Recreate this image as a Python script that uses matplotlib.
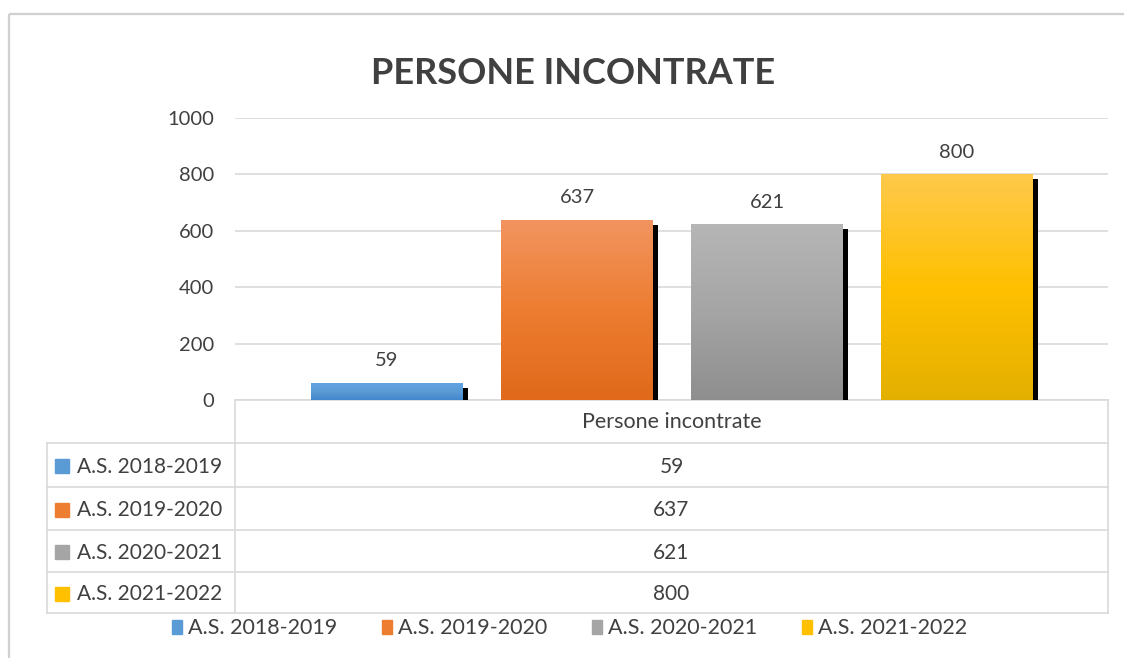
import numpy as np
import matplotlib
matplotlib.use("Agg")
import matplotlib.pyplot as plt
from matplotlib.patches import Rectangle
from matplotlib.colors import LinearSegmentedColormap
import matplotlib.patheffects as pe

# ---- data ----
title = "PERSONE INCONTRATE"
category = "Persone incontrate"
series = ["A.S. 2018-2019", "A.S. 2019-2020", "A.S. 2020-2021", "A.S. 2021-2022"]
values = [59, 637, 621, 800]
yticks = [0, 200, 400, 600, 800, 1000]

# ---- styles ----
base_colors = ["#5B9BD5", "#ED7D31", "#A5A5A5", "#FFC000"]
grad_stops = [
    ["#62A4E2", "#5B9BD5", "#4386CC"],
    ["#F29460", "#ED7D31", "#E0691B"],
    ["#B6B6B6", "#A5A5A5", "#8E8E8E"],
    ["#FEC94C", "#FFC000", "#E4B000"],
]
txt = "#404040"
grid_c = "#D9D9D9"
FONT = "Lato"
plt.rcParams['font.family'] = [FONT, 'DejaVu Sans']

W, H = 1124, 658
fig = plt.figure(figsize=(W / 100, H / 100), dpi=100)

# overlay in pixel coords
ov = fig.add_axes([0, 0, 1, 1])
ov.set_xlim(0, W)
ov.set_ylim(H, 0)
ov.axis("off")
ov.set_zorder(0)

# outer border
ov.add_patch(Rectangle((8.5, 13.5), 1200, 700, fill=False, edgecolor="#D0D0D0", lw=1.6))

# main axes
L, R, T, B = 235, 1108, 118, 400
ax = fig.add_axes([L / W, 1 - B / H, (R - L) / W, (B - T) / H])
ax.set_zorder(1)
ax.patch.set_alpha(0)
x = np.arange(len(values))
ax.set_ylim(0, 1000)
ax.set_yticks(yticks)
ax.yaxis.grid(True, color=grid_c, lw=1.2)
ax.set_axisbelow(True)
for s in ax.spines.values():
    s.set_visible(False)
ax.tick_params(axis="y", length=0, pad=15, labelsize=14.5, labelcolor=txt)
ax.set_xticks([])

bars = ax.bar(x, values, width=0.8, color=base_colors, zorder=2)
for b in bars:
    b.set_path_effects([pe.SimplePatchShadow(offset=(3.8, -3), shadow_rgbFace="black", alpha=1.0),
                        pe.Normal()])
for b, stops in zip(bars, grad_stops):
    cmap = LinearSegmentedColormap.from_list("g", stops)
    x0, y0 = b.get_x(), b.get_y()
    w, h = b.get_width(), b.get_height()
    grad = np.linspace(0, 1, 256).reshape(-1, 1)
    ax.imshow(grad, cmap=cmap, aspect="auto", extent=(x0, x0 + w, y0, y0 + h),
              origin="upper", zorder=2.5, interpolation="bilinear")
ax.set_xlim(-0.8, -0.8 + (R - L) / 190)
ax.set_ylim(0, 1000)
ax.bar_label(bars, labels=[str(v) for v in values], padding=10, fontsize=14.5, color=txt)

# title
fig.text(573 / W, 1 - 74 / H, title, ha="center", va="center", fontsize=26,
         fontweight="bold", color=txt)

# ---- data table ----
tl, tr = 47, 1108
rows_y = [443, 487, 530, 572, 613]
ov.plot([L, R], [B, B], color=grid_c, lw=1.2)
ov.plot([L, L], [B, rows_y[-1]], color=grid_c, lw=1.2)
ov.plot([R, R], [B, rows_y[-1]], color=grid_c, lw=1.2)
ov.plot([tl, tl], [rows_y[0], rows_y[-1]], color=grid_c, lw=1.2)
for yy in rows_y:
    ov.plot([tl, tr], [yy, yy], color=grid_c, lw=1.2)
cx = (L + R) / 2
ov.text(cx, (B + rows_y[0]) / 2 + 1, category, ha="center", va="center", fontsize=15.5,
        color=txt)
for i, (name, v, c) in enumerate(zip(series, values, base_colors)):
    yc = (rows_y[i] + rows_y[i + 1]) / 2 + 2
    ov.add_patch(Rectangle((55, yc - 8), 14, 14, color=c))
    ov.text(77, yc, name, ha="left", va="center", fontsize=15, color=txt)
    ov.text(cx, yc, str(v), ha="center", va="center", fontsize=15, color=txt)

# legend (bottom)
for i, (name, c) in enumerate(zip(series, base_colors)):
    lx = 172 + 210 * i
    ov.add_patch(Rectangle((lx, 620), 10, 14, color=c))
    ov.text(lx + 16, 628, name, ha="left", va="center", fontsize=15.5, color=txt)

fig.savefig("out.png", dpi=100)
